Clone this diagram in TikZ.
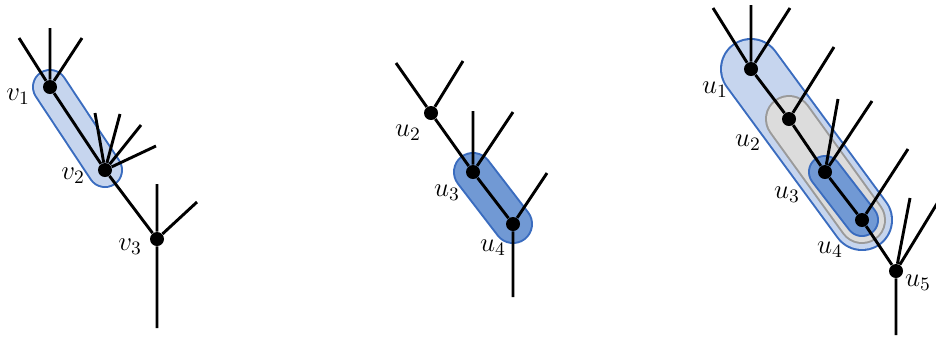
\documentclass[tikz,border=0pt]{standalone}
\usepackage{fix-cm}
\usetikzlibrary{backgrounds}
\definecolor{lightfill}{HTML}{C6D5EE}
\definecolor{darkfill}{HTML}{7199D4}
\definecolor{pillborder}{HTML}{3A6CBF}
\definecolor{grayfill}{HTML}{DCDCDC}
\definecolor{grayborder}{HTML}{9A9A9A}
\tikzset{
  dot/.style={circle,fill=black,inner sep=0pt,minimum size=7pt},
  edge/.style={line width=1.45pt,black},
  lbl/.style={font=\fontsize{13.5}{16}\selectfont,inner sep=0pt},
  pillout/.style={line cap=round,line width=#1}
}
\begin{document}
\begin{tikzpicture}[x=0.5pt,y=-0.5pt]
\useasboundingbox (0,0) rectangle (936,339);
% ---------- left tree ----------
\node[dot] (v1) at (50,87) {};
\node[dot] (v2) at (105,170) {};
\node[dot] (v3) at (157,239) {};
\coordinate (a1) at (19,38);
\coordinate (a2) at (50,28);
\coordinate (a3) at (82,38);
\coordinate (b1) at (95,113);
\coordinate (b2) at (120,114);
\coordinate (b3) at (141,125);
\coordinate (b4) at (156,146);
\coordinate (c1) at (157,184);
\coordinate (c2) at (197,202);
\coordinate (c3) at (157,328);
\begin{scope}[on background layer]
  \draw[pillout=18pt,pillborder] (v1.center) -- (v2.center);
  \draw[pillout=16pt,lightfill] (v1.center) -- (v2.center);
\end{scope}
\draw[edge] (v1) -- (v2) (v2) -- (v3);
\draw[edge] (v1) -- (a1) (v1) -- (a2) (v1) -- (a3);
\draw[edge] (v2) -- (b1) (v2) -- (b2) (v2) -- (b3) (v2) -- (b4);
\draw[edge] (v3) -- (c1) (v3) -- (c2) (v3) -- (c3);
\node[lbl] (lv1) at (18,97) {$v_1$};
\node[lbl] (lv2) at (73,176) {$v_2$};
\node[lbl] (lv3) at (130,247) {$v_3$};
% ---------- middle tree ----------
\node[dot] (m2) at (431,113) {};
\node[dot] (m3) at (473,172) {};
\node[dot] (m4) at (513,224) {};
\coordinate (d1) at (396,63);
\coordinate (d2) at (463,61);
\coordinate (e1) at (473,111);
\coordinate (e2) at (513,112);
\coordinate (f1) at (547,173);
\coordinate (f2) at (513,297);
\begin{scope}[on background layer]
  \draw[pillout=20pt,pillborder] (m3.center) -- (m4.center);
  \draw[pillout=18pt,darkfill] (m3.center) -- (m4.center);
\end{scope}
\draw[edge] (m2) -- (m3) (m3) -- (m4);
\draw[edge] (m2) -- (d1) (m2) -- (d2);
\draw[edge] (m3) -- (e1) (m3) -- (e2);
\draw[edge] (m4) -- (f1) (m4) -- (f2);
\node[lbl] (lm2) at (408,133) {$u_2$};
\node[lbl] (lm3) at (447,193) {$u_3$};
\node[lbl] (lm4) at (493,248) {$u_4$};
% ---------- right tree ----------
\node[dot] (r1) at (751,69) {};
\node[dot] (r2) at (789,119) {};
\node[dot] (r3) at (825,172) {};
\node[dot] (r4) at (862,220) {};
\node[dot] (r5) at (896,271) {};
\coordinate (g1) at (713,8);
\coordinate (g2) at (751,5);
\coordinate (g3) at (790,8);
\coordinate (h1) at (834,47);
\coordinate (i1) at (838,99);
\coordinate (i2) at (872,101);
\coordinate (j1) at (908,149);
\coordinate (k1) at (910,198);
\coordinate (k2) at (938,202);
\coordinate (k3) at (896,335);
\begin{scope}[on background layer]
  \draw[pillout=31pt,pillborder] (r1.center) -- (r4.center);
  \draw[pillout=29pt,lightfill] (r1.center) -- (r4.center);
  \draw[pillout=24pt,grayborder] (r2.center) -- (r4.center);
  \draw[pillout=22pt,grayfill] (r2.center) -- (r4.center);
  \draw[pillout=17pt,pillborder] (r3.center) -- (r4.center);
  \draw[pillout=15pt,darkfill] (r3.center) -- (r4.center);
\end{scope}
\draw[edge] (r1) -- (r2) (r2) -- (r3) (r3) -- (r4) (r4) -- (r5);
\draw[edge] (r1) -- (g1) (r1) -- (g2) (r1) -- (g3);
\draw[edge] (r2) -- (h1);
\draw[edge] (r3) -- (i1) (r3) -- (i2);
\draw[edge] (r4) -- (j1);
\draw[edge] (r5) -- (k1) (r5) -- (k2) (r5) -- (k3);
\node[lbl] (lr1) at (715,90) {$u_1$};
\node[lbl] (lr2) at (748,143) {$u_2$};
\node[lbl] (lr3) at (787,195) {$u_3$};
\node[lbl] (lr4) at (830,250) {$u_4$};
\node[lbl] (lr5) at (918,283) {$u_5$};
\end{tikzpicture}
\end{document}
